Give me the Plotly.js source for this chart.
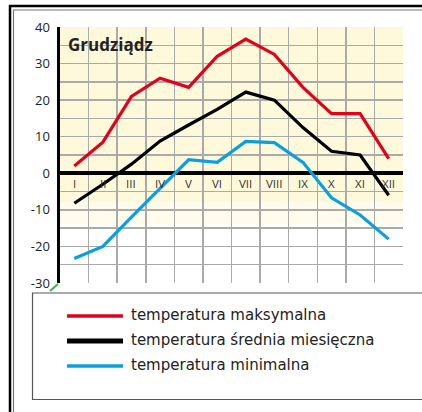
<!DOCTYPE html>
<html>
<head>
<meta charset="utf-8">
<script src="https://cdn.plot.ly/plotly-3.0.1.min.js"></script>
<style>
html,body{margin:0;padding:0;background:#fff;}
#chart{width:422px;height:412px;}
</style>
</head>
<body>
<div id="chart"></div>
<script>
const months = ['I','II','III','IV','V','VI','VII','VIII','IX','X','XI','XII'];
const tMax = [2, 8.5, 21, 26, 23.5, 32, 36.7, 32.5, 23.5, 16.3, 16.3, 4];
const tMean = [-8.2, -3, 2.5, 8.8, 13.2, 17.5, 22.2, 20, 12.5, 6, 5, -6];
const tMin = [-23.3, -20, -12, -4, 3.7, 3, 8.7, 8.4, 3, -6.7, -11.4, -18];
const seriesNames = ['temperatura maksymalna', 'temperatura średnia miesięczna', 'temperatura minimalna'];
const seriesColors = ['#e3001b', '#000000', '#0aa0e0'];
const title = 'Grudziądz';
const yTicks = [-30,-25,-20,-15,-10,-5,0,5,10,15,20,25,30,35,40];

const L = 60, T = 27, W = 343, H = 256;
const xp = px => (px - L) / W;
const yp = py => (T + H - py) / H;

const xIdx = months.map((m, i) => i + 1);
const traces = [tMax, tMean, tMin].map((v, k) => ({
  x: xIdx, y: v, type: 'scatter', mode: 'lines',
  name: seriesNames[k], showlegend: false,
  line: {color: seriesColors[k], width: 3.2}
}));

const shapes = [
  {type:'rect', xref:'x', yref:'y', x0:0.5, x1:12.5, y0:-8, y1:40, fillcolor:'#fff9dc', line:{width:0}, layer:'below'},
  {type:'rect', xref:'x', yref:'y', x0:0.5, x1:12.5, y0:-14, y1:-8, fillcolor:'#fffcec', line:{width:0}, layer:'below'},
  {type:'line', xref:'paper', yref:'paper', x0:xp(9), x1:xp(430), y0:yp(6), y1:yp(6), line:{color:'#000', width:2.5}},
  {type:'line', xref:'paper', yref:'paper', x0:xp(13), x1:xp(430), y0:yp(10), y1:yp(10), line:{color:'#777', width:1.2}},
  {type:'line', xref:'paper', yref:'paper', x0:xp(10), x1:xp(10), y0:yp(5), y1:yp(420), line:{color:'#000', width:2.5}},
  {type:'line', xref:'paper', yref:'paper', x0:xp(13.5), x1:xp(13.5), y0:yp(10), y1:yp(420), line:{color:'#777', width:1.2}},
  {type:'rect', xref:'paper', yref:'paper', x0:xp(32.5), x1:xp(430), y0:yp(293), y1:yp(399.5), line:{color:'#555', width:1.2}, fillcolor:'rgba(0,0,0,0)'},
  {type:'line', xref:'paper', yref:'paper', x0:xp(50), x1:xp(58), y0:yp(291), y1:yp(284), line:{color:'#3cb44b', width:2}}
];

const annotations = [
  {xref:'paper', yref:'paper', x:xp(66), y:yp(31), xanchor:'left', yanchor:'top', showarrow:false,
   text:'<b>' + title + '</b>', font:{family:'Open Sans, sans-serif', size:17, color:'#222'}}
];
months.forEach((m, i) => {
  annotations.push({x: xIdx[i], y: 0, xref:'x', yref:'y', yanchor:'top', yshift:-1, showarrow:false,
    text: m, font:{family:'Open Sans, sans-serif', size:11.5, color:'#333'}});
});
const legY = [316, 341, 366];
seriesNames.forEach((n, k) => {
  shapes.push({type:'line', xref:'paper', yref:'paper', x0:xp(67), x1:xp(123), y0:yp(legY[k]), y1:yp(legY[k]),
    line:{color:seriesColors[k], width:k === 1 ? 5 : 3.5}});
  annotations.push({xref:'paper', yref:'paper', x:xp(129), y:yp(legY[k] - 1), xanchor:'left', yanchor:'middle',
    showarrow:false, text:n, font:{family:'DejaVu Sans, sans-serif', size:15, color:'#222'}});
});

const layout = {
  width:422, height:412,
  margin:{l:L, r:422 - L - W, t:T, b:412 - T - H, pad:0},
  paper_bgcolor:'#fff', plot_bgcolor:'#fff',
  showlegend:false,
  xaxis:{range:[0.5, 12.5], tickvals:[0.5,1.5,2.5,3.5,4.5,5.5,6.5,7.5,8.5,9.5,10.5,11.5,12.5],
    showticklabels:false, ticks:'', showgrid:true, gridcolor:'#aaaaaa', gridwidth:1.5,
    zeroline:false, showline:false, fixedrange:true},
  yaxis:{range:[-30, 40], tickvals:yTicks, ticktext:yTicks.map(v => v % 10 === 0 ? String(v) : ''),
    ticks:'', showgrid:true, gridcolor:'#aaaaaa', gridwidth:1.5,
    zeroline:true, zerolinecolor:'#000', zerolinewidth:4,
    showline:true, linecolor:'#000', linewidth:3.5,
    ticklabelstandoff:4,
    tickfont:{family:'Open Sans, sans-serif', size:13, color:'#222'}, fixedrange:true},
  shapes: shapes,
  annotations: annotations
};

Plotly.newPlot('chart', traces, layout, {staticPlot:true, displayModeBar:false});
</script>
</body>
</html>
